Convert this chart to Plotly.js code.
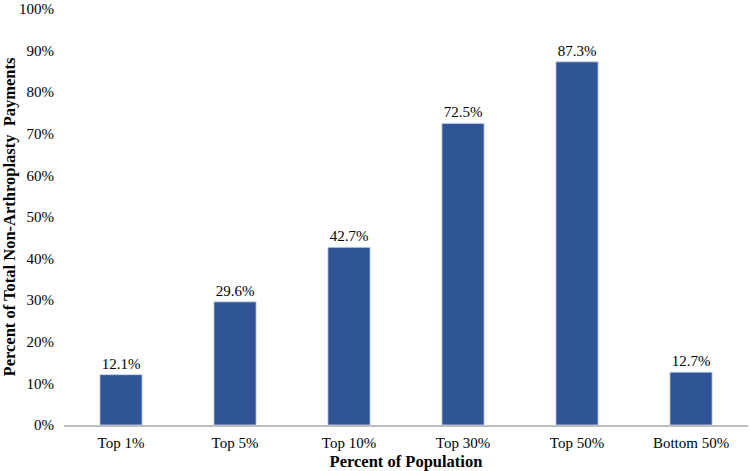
<!DOCTYPE html>
<html>
<head>
<meta charset="utf-8">
<script src="https://cdn.plot.ly/plotly-3.0.1.min.js"></script>
<style>
  html, body { margin: 0; padding: 0; background: #fff; }
  #chart { width: 750px; height: 471px; }
</style>
</head>
<body>
<div id="chart"></div>
<script>
// Share of total non-arthroplasty payments by population group
const groups = ['Top 1%', 'Top 5%', 'Top 10%', 'Top 30%', 'Top 50%', 'Bottom 50%'];
const shares = [12.1, 29.6, 42.7, 72.5, 87.3, 12.7];
const yTicks = [0, 10, 20, 30, 40, 50, 60, 70, 80, 90, 100];

const serif = 'Liberation Serif, Times New Roman, serif';

const trace = {
    x: groups,
    y: shares,
    type: 'bar',
    text: shares.map(v => v.toFixed(1) + '%'),
    textposition: 'outside',
    cliponaxis: false,
    textfont: { family: serif, size: 15, color: '#000' },
    marker: {
        color: '#2F5597',
        line: { color: '#c9d5ea', width: 0.8 }
    },
    hoverinfo: 'none'
};

const layout = {
    width: 750,
    height: 471,
    margin: { l: 64, r: 2, t: 9, b: 46, autoexpand: false },
    paper_bgcolor: '#fff',
    plot_bgcolor: '#fff',
    font: { family: serif, size: 15, color: '#000' },
    bargap: 0.63,
    showlegend: false,
    xaxis: {
        automargin: false,
        showgrid: false,
        showline: true,
        linecolor: '#bfbfbf',
        linewidth: 2,
        ticks: '',
        ticklabelstandoff: 3,
        tickfont: { family: serif, size: 15 },
        title: { text: '<b>Percent of Population</b>', font: { family: serif, size: 16.5 }, standoff: 5 }
    },
    yaxis: {
        automargin: false,
        range: [0, 100],
        tickvals: yTicks,
        ticktext: yTicks.map(v => v + '%'),
        ticklabeloverflow: 'allow',
        ticklabelstandoff: 9,
        showgrid: false,
        showline: false,
        zeroline: false,
        ticks: '',
        tickfont: { family: serif, size: 15 },
        title: { text: '<b>Percent of Total Non-Arthroplasty  Payments</b>', font: { family: serif, size: 16.5 }, standoff: 12 }
    }
};

Plotly.newPlot('chart', [trace], layout, { displayModeBar: false, staticPlot: true });
</script>
</body>
</html>
